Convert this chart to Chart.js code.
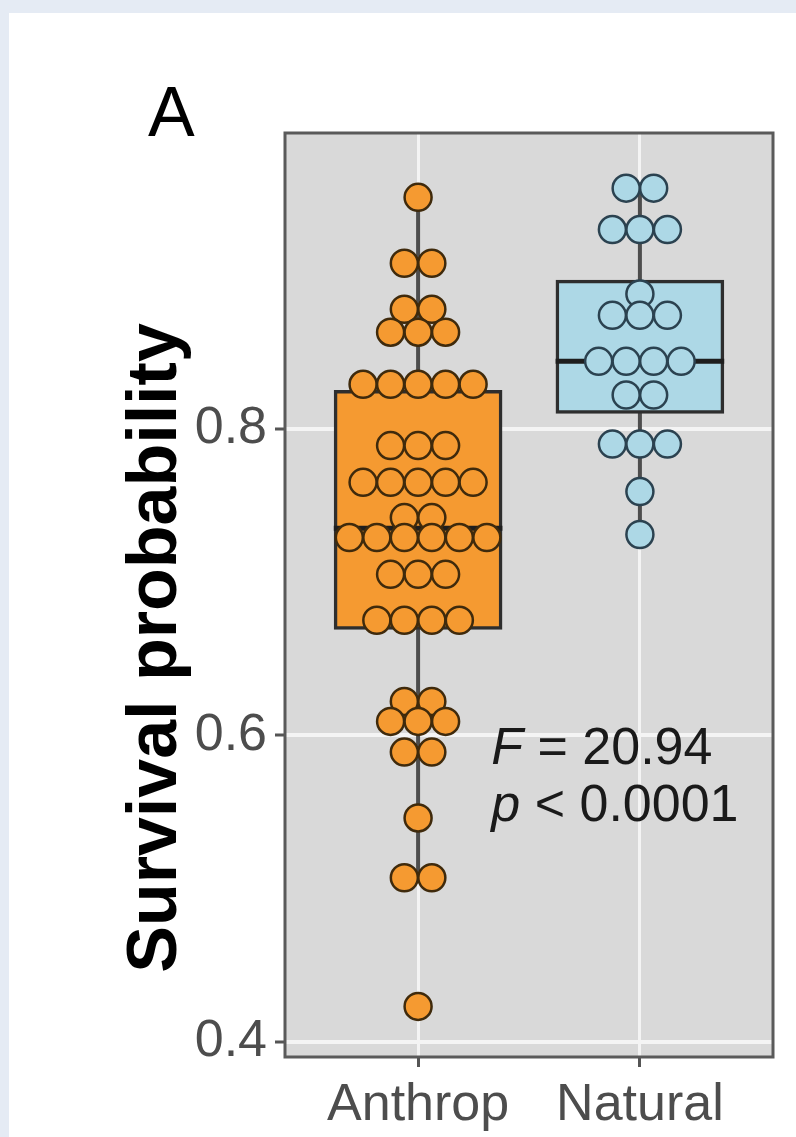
<!DOCTYPE html>
<html>
<head>
<meta charset="utf-8">
<script src="https://cdn.jsdelivr.net/npm/chart.js@4.4.1/dist/chart.umd.min.js"></script>
<style>
  html, body { margin: 0; padding: 0; background: #e5ebf4; }
  #sheet { position: absolute; left: 9px; top: 13px; width: 787px; height: 1124px; background: #fff; }
  #wrap { position: absolute; left: 0; top: 0; width: 796px; height: 1137px; }
</style>
</head>
<body>
<div id="sheet"></div>
<div id="wrap"><canvas id="chart" width="796" height="1137"></canvas></div>
<script>
const groups = ['Anthrop', 'Natural']
const yTicks = [0.4, 0.6, 0.8]
const yTitle = 'Survival probability'
const panelLabel = 'A'

// dotplot bins: y level of each row and how many dots sit in it
const anthropLevels = [0.951, 0.908, 0.878, 0.863, 0.829, 0.789, 0.765, 0.742, 0.729, 0.705, 0.675, 0.622, 0.609, 0.589, 0.546, 0.507, 0.423]
const anthropCounts = [1, 2, 2, 3, 5, 3, 5, 2, 6, 3, 4, 2, 3, 2, 1, 2, 1]
const naturalLevels = [0.957, 0.930, 0.888, 0.874, 0.844, 0.822, 0.790, 0.759, 0.731]
const naturalCounts = [2, 3, 1, 3, 4, 2, 3, 1, 1]

// box stats: lower whisker, q1, median, q3, upper whisker
const anthropBox = [0.507, 0.669, 0.735, 0.825, 0.951]
const naturalBox = [0.731, 0.810, 0.844, 0.897, 0.957]

const statText = [['F', ' = 20.94'], ['p', ' < 0.0001']]
const statPos = [1.33, 0.581]

const FONT = '"Liberation Sans", Arial, sans-serif'
const dotStep = 0.124
const boxHalf = 0.38
const fills = ['#f59a31', '#add8e6']
const edges = ['#3f2a0c', '#2b4250']

function dotRows(levels, counts, center) {
  const pts = []
  levels.forEach((lv, i) => {
    const n = counts[i]
    for (let k = 0; k < n; k++) pts.push({ x: center + (k - (n - 1) / 2) * dotStep, y: lv })
  })
  return pts
}

const boxes = [anthropBox, naturalBox]

const datasets = [
  {
    type: 'scatter', order: 0,
    data: dotRows(anthropLevels, anthropCounts, 1),
    backgroundColor: fills[0], borderColor: edges[0],
    pointRadius: 13.5, borderWidth: 2.5,
  },
  {
    type: 'scatter', order: 0,
    data: dotRows(naturalLevels, naturalCounts, 2),
    backgroundColor: fills[1], borderColor: edges[1],
    pointRadius: 13.5, borderWidth: 2.5,
  },
]
boxes.forEach((b, i) => {
  datasets.push({
    type: 'line', order: 1,
    data: [{ x: i + 1 - boxHalf, y: b[2] }, { x: i + 1 + boxHalf, y: b[2] }],
    borderColor: '#1e1e1e', borderWidth: 5, pointRadius: 0,
  })
  datasets.push({
    type: 'line', order: 3,
    data: [{ x: i + 1, y: b[0] }, { x: i + 1, y: b[4] }],
    borderColor: '#4d4d4d', borderWidth: 4, pointRadius: 0,
  })
})
datasets.push({
  type: 'bar', order: 2,
  data: boxes.map((b, i) => ({ x: i + 1, y: [b[1], b[3]] })),
  backgroundColor: fills, borderColor: '#2e2e2e', borderWidth: 3.5,
  borderSkipped: false, barThickness: 168,
})

const panel = {
  id: 'panel',
  beforeDraw: chart => {
    const { left, top, width, height } = chart.chartArea
    chart.ctx.fillStyle = '#d9d9d9'
    chart.ctx.fillRect(left, top, width, height)
  },
  afterDatasetsDraw: chart => {
    const { left, top, width, height } = chart.chartArea
    const ctx = chart.ctx
    ctx.save()
    ctx.strokeStyle = '#5a5a5a'
    ctx.lineWidth = 3
    ctx.strokeRect(left, top, width, height)
    ctx.restore()
  },
  afterDraw: chart => {
    const ctx = chart.ctx
    const { x, y } = chart.scales
    ctx.save()
    ctx.fillStyle = '#000'
    ctx.textBaseline = 'alphabetic'
    ctx.textAlign = 'left'
    ctx.font = '70px ' + FONT
    ctx.fillText(panelLabel, 148, 136)

    // rotated y title
    ctx.save()
    ctx.translate(176, 648)
    ctx.rotate(-Math.PI / 2)
    ctx.textAlign = 'center'
    ctx.font = 'bold 70px ' + FONT
    ctx.fillText(yTitle, 0, 0)
    ctx.restore()

    ctx.fillStyle = '#1a1a1a'
    const px = x.getPixelForValue(statPos[0])
    let py = y.getPixelForValue(statPos[1])
    statText.forEach(([it, rest]) => {
      ctx.font = 'italic 52px ' + FONT
      ctx.fillText(it, px, py)
      const w = ctx.measureText(it).width
      ctx.font = '52px ' + FONT
      ctx.fillText(rest, px + w, py)
      py += 57
    })
    ctx.restore()
  },
}

new Chart(document.getElementById('chart'), {
  type: 'scatter',
  data: { datasets },
  plugins: [panel],
  options: {
    animation: false,
    responsive: false,
    layout: { padding: { top: 133, right: 23, left: 0, bottom: 0 } },
    plugins: { legend: { display: false }, tooltip: { enabled: false } },
    scales: {
      x: {
        type: 'linear', min: 0.4, max: 2.6, offset: false,
        afterBuildTicks: s => { s.ticks = groups.map((g, i) => ({ value: i + 1 })) },
        afterFit: s => { s.height = 80 },
        ticks: {
          color: '#4d4d4d', padding: 7,
          font: { family: FONT, size: 52 },
          callback: v => groups[Math.round(v) - 1],
        },
        grid: { offset: false, color: '#f4f4f4', lineWidth: 3, tickColor: '#555', tickLength: 10, tickWidth: 3 },
        border: { display: false },
      },
      y: {
        type: 'linear', min: 0.39, max: 0.993,
        afterBuildTicks: s => { s.ticks = yTicks.map(v => ({ value: v })) },
        afterFit: s => { s.width = 285 },
        ticks: {
          color: '#4d4d4d', padding: 8,
          font: { family: FONT, size: 52 },
          callback: v => v.toFixed(1),
        },
        grid: { color: '#f4f4f4', lineWidth: 4, tickColor: '#555', tickLength: 10, tickWidth: 3 },
        border: { display: false },
      },
    },
  },
})
</script>
</body>
</html>
